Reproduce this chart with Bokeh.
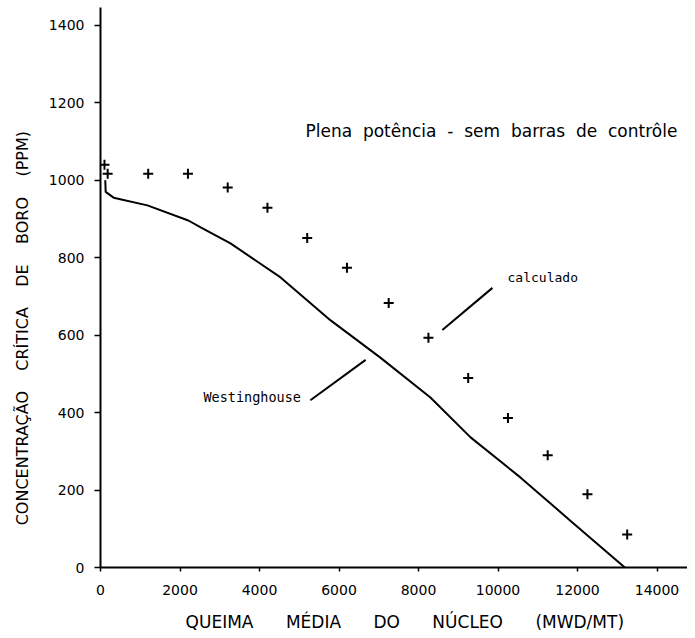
from bokeh.plotting import figure
from bokeh.models import Range1d, FixedTicker, Label
from bokeh.embed import file_html
from bokeh.resources import INLINE

# Calculated points (crosses)
calc_x = [100, 180, 1200, 2200, 3200, 4200, 5200, 6200, 7250, 8250, 9250, 10250, 11250, 12250, 13250]
calc_y = [1040, 1017, 1017, 1017, 981, 929, 851, 774, 683, 593, 489, 386, 290, 189, 85]

# Westinghouse curve
west_x = [120, 130, 330, 1180, 2210, 2520, 3270, 4530, 5790, 7040, 8300, 9310, 10570, 11820, 13190]
west_y = [1000, 970, 955, 935, 896, 878, 837, 749, 638, 542, 439, 336, 232, 121, 0]

x_ticks = [0, 2000, 4000, 6000, 8000, 10000, 12000, 14000]
y_ticks = [0, 200, 400, 600, 800, 1000, 1200, 1400]

NB = "\u00a0"
xlabel = NB * 4 + (NB * 6).join(["QUEIMA", "MÉDIA", "DO", "NÚCLEO", "(MWD/MT)"])
ylabel = (NB * 4).join(["CONCENTRAÇÃO", "CRÍTICA", "DE", "BORO", "(PPM)"]) + NB * 16
title_text = (" " + NB).join(["Plena", "potência", "-", "sem", "barras", "de", "contrôle"])

p = figure(width=687, height=634, output_backend="svg", toolbar_location=None,
           x_range=Range1d(0, 14767), y_range=Range1d(0, 1446),
           min_border_left=100, min_border_right=0, min_border_top=7, min_border_bottom=67)
p.outline_line_color = None
p.grid.visible = False
p.background_fill_color = "white"

for ax in (p.xaxis[0], p.yaxis[0]):
    ax.axis_line_width = 2
    ax.axis_line_color = "black"
    ax.major_tick_line_color = "black"
    ax.major_tick_line_width = 1.5
    ax.minor_tick_line_color = None
    ax.major_label_text_font = "DejaVu Sans"
    ax.major_label_text_font_size = "14px"
    ax.major_label_text_color = "black"
    ax.axis_label_text_font = "DejaVu Sans"
    ax.axis_label_text_font_style = "normal"
    ax.axis_label_text_color = "black"

p.xaxis.ticker = FixedTicker(ticks=x_ticks)
p.yaxis.ticker = FixedTicker(ticks=y_ticks)
p.xaxis.major_tick_out = 4
p.xaxis.major_tick_in = 0
p.yaxis.major_tick_out = 6
p.yaxis.major_tick_in = 0
p.xaxis.major_label_standoff = 13
p.yaxis.major_label_standoff = 10
p.xaxis.axis_label = xlabel
p.yaxis.axis_label = ylabel
p.xaxis.axis_label_text_font_size = "17px"
p.yaxis.axis_label_text_font_size = "16px"
p.xaxis.axis_label_standoff = 14
p.yaxis.axis_label_standoff = 14

p.line(west_x, west_y, line_color="black", line_width=2)
p.scatter(calc_x, calc_y, marker="cross", size=10, line_color="black", line_width=2)

# leader lines
p.line([9860, 8600], [722, 613], line_color="black", line_width=2)
p.line([5280, 6670], [432, 536], line_color="black", line_width=2)

p.add_layout(Label(x=5157, y=1128, text=title_text,
                   text_font="DejaVu Sans", text_font_size="17px", text_color="black",
                   text_baseline="middle"))
p.add_layout(Label(x=10240, y=748, text="calculado", text_font="DejaVu Sans Mono",
                   text_font_size="13px", text_color="black", text_baseline="middle"))
p.add_layout(Label(x=2590, y=440, text="Westinghouse", text_font="DejaVu Sans Mono",
                   text_font_size="13.5px", text_color="black", text_baseline="middle"))

open("out.html", "w").write(file_html(p, INLINE))
